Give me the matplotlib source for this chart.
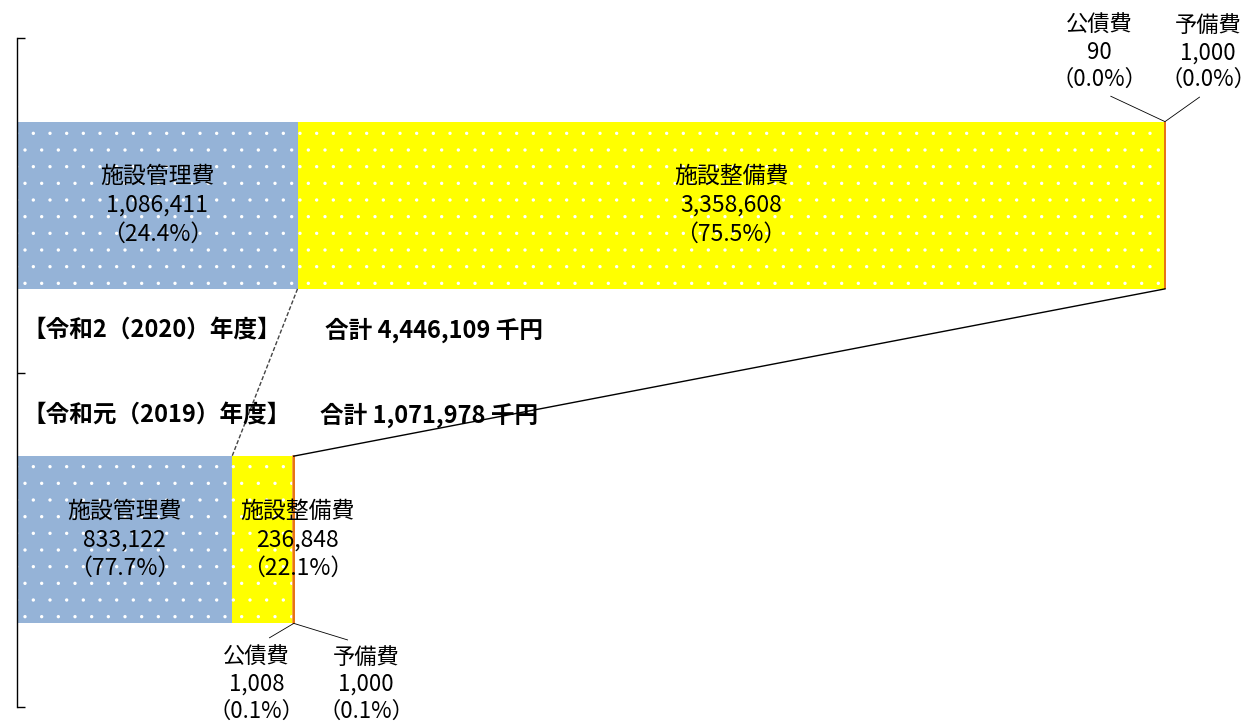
import numpy as np
import matplotlib.pyplot as plt

plt.rcParams['font.family'] = ['Noto Sans CJK JP', 'DejaVu Sans']
plt.rcParams['hatch.linewidth'] = 0.0

# === Data (千円) ===
years = ["令和元（2019）年度", "令和2（2020）年度"]
items = ["施設管理費", "施設整備費", "公債費", "予備費"]
values_2019 = [833122, 236848, 1008, 1000]
values_2020 = [1086411, 3358608, 90, 1000]
colors = ["#95B3D7", "#FFFF00", "#F79646", "#E46C0A"]

data = np.array([values_2019, values_2020])
totals = data.sum(axis=1)
starts = np.hstack([np.zeros((2, 1)), np.cumsum(data, axis=1)[:, :-1]])
bar_h = 0.5

fig = plt.figure(figsize=(12.54, 7.22), dpi=100)
ax = fig.add_axes([17 / 1254, 15 / 722, 1237 / 1254, 669 / 722])

# === Bars ===
for j, name in enumerate(items):
    small = j >= 2
    ax.barh([0, 1], data[:, j], left=starts[:, j], height=bar_h,
            color=colors[j], edgecolor=colors[j] if small else "white",
            linewidth=1.2 if small else 0, hatch=None if small else ".",
            zorder=2)

# === Series lines between the two bars ===
for j, ls, c in [(0, (0, (3, 1.5)), "#444444"), (1, "-", "black")]:
    x_top = starts[1, j] + data[1, j]
    x_bot = starts[0, j] + data[0, j]
    if j == 1:
        x_top, x_bot = totals[1], totals[0]
    ax.plot([x_top, x_bot], [1 - bar_h / 2, 0 + bar_h / 2], color=c,
            linestyle=ls, linewidth=1.0, zorder=4)

# === Labels inside the big segments ===
def label(i, j):
    v = data[i, j]
    return f"{items[j]}\n{v:,}\n（{v / totals[i] * 100:.1f}%）"

txt_kw = dict(ha="center", va="center", fontsize=16.5, linespacing=1.32, zorder=5)
for i in range(2):
    for j in range(2):
        xc = starts[i, j] + data[i, j] / 2
        dx = 25 if (i == 0 and j == 1) else 0
        ax.annotate(label(i, j), xy=(xc, i), xytext=(dx, 0),
                    textcoords="offset points", **txt_kw)

# === Leader-line labels for the tiny segments ===
offsets = {1: [(-47, 22), (31, 22)], 0: [(-27, -16), (52, -16)]}
for i in range(2):
    y_edge = i + bar_h / 2 if i == 1 else i - bar_h / 2
    for k, j in enumerate([2, 3]):
        dx, dy = offsets[i][k]
        ax.annotate(label(i, j), xy=(totals[i], y_edge), xytext=(dx, dy),
                    textcoords="offset points", ha="center",
                    va="bottom" if i == 1 else "top", fontsize=16,
                    linespacing=1.22,
                    arrowprops=dict(arrowstyle="-", color="black", lw=0.6,
                                    relpos=(0.5, 0) if i == 1 else (0.5, 1),
                                    shrinkA=4 if i == 1 else 7, shrinkB=0))

# === Year headers ===
head_y = {1: 1 - 330 / 722, 0: 1 - 415 / 722}
head_x2 = {1: 325 / 1254, 0: 320 / 1254}
for i in range(2):
    fig.text(22 / 1254, head_y[i], f"【{years[i]}】", fontsize=17,
             fontweight="bold", va="center", ha="left", zorder=1)
    fig.text(head_x2[i], head_y[i], f"合計 {totals[i]:,} 千円", fontsize=17,
             fontweight="bold", va="center", ha="left", zorder=1)

# === Axes formatting ===
ax.set_xlim(0, totals[1] * 1237 / 1148)
ax.set_ylim(-0.5, 1.5)
ax.set_yticks([-0.5, 0.5, 1.5])
ax.set_yticklabels([])
ax.tick_params(axis="y", direction="in", length=6, width=1, color="black")
ax.set_xticks([])
for s in ["top", "right", "bottom"]:
    ax.spines[s].set_visible(False)
ax.spines["left"].set_linewidth(1)

fig.savefig("out.png", dpi=100)
